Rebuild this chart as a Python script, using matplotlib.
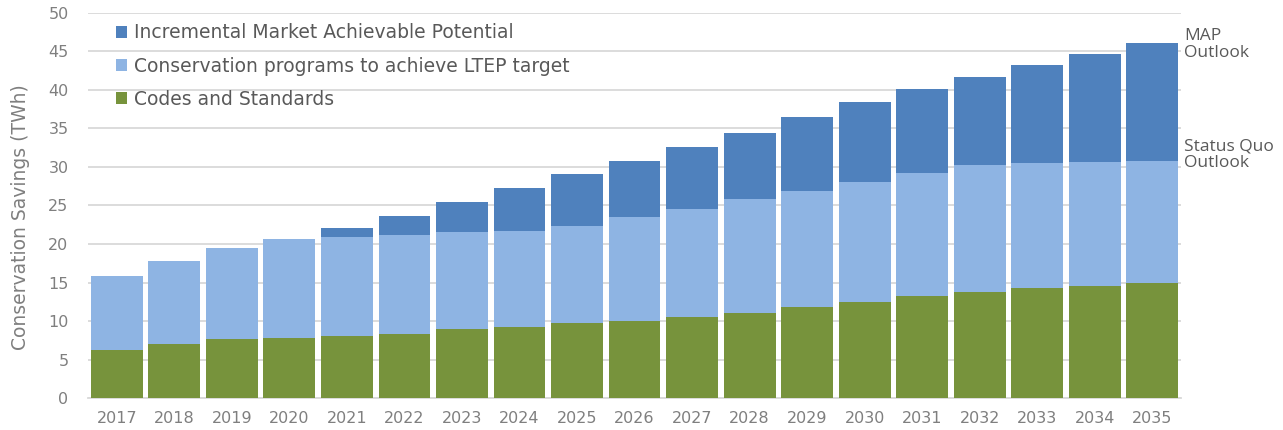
import numpy as np
import matplotlib
matplotlib.use('Agg')
import matplotlib.pyplot as plt

# Conservation savings (TWh)
years = [str(y) for y in range(2017, 2036)]
codes_standards = [6.2, 7.0, 7.6, 7.8, 8.0, 8.35, 8.9, 9.25, 9.7, 10.05,
                   10.5, 11.0, 11.8, 12.5, 13.2, 13.8, 14.25, 14.6, 14.9]
ltep_programs = [9.7, 10.8, 11.9, 12.85, 12.95, 12.8, 12.6, 12.5, 12.65, 13.45,
                 14.1, 14.8, 15.1, 15.5, 16.0, 16.5, 16.3, 16.1, 15.9]
incremental_map = [0, 0, 0, 0, 1.1, 2.55, 3.95, 5.55, 6.8, 7.3,
                   8.05, 8.65, 9.55, 10.45, 10.95, 11.45, 12.75, 14.0, 15.25]

c_green = '#77933C'
c_light = '#8EB4E3'
c_dark = '#4F81BD'
grey = '#7F7F7F'

plt.rcParams['font.family'] = ['DejaVu Sans']

fig = plt.figure(figsize=(12.83, 4.3), dpi=100)
ax = fig.add_axes([0.0686, 0.0744, 0.852, 0.8954])

x = np.arange(len(years))
w = 0.9
codes = np.array(codes_standards)
ltep = np.array(ltep_programs)
inc = np.array(incremental_map)

ax.bar(x, codes, w, color=c_green, label='Codes and Standards', zorder=3)
ax.bar(x, ltep, w, bottom=codes, color=c_light,
       label='Conservation programs to achieve LTEP target', zorder=3)
ax.bar(x, inc, w, bottom=codes + ltep, color=c_dark,
       label='Incremental Market Achievable Potential', zorder=3)

ax.set_xlim(-0.5, len(years) - 0.5)
ax.set_ylim(0, 50)
ax.set_yticks(range(0, 51, 5))
ax.set_xticks(x)
ax.set_xticklabels(years)
ax.yaxis.grid(True, color='#D9D9D9', linewidth=1.3, zorder=0)
ax.set_axisbelow(True)
for s in ['top', 'right', 'left']:
    ax.spines[s].set_visible(False)
ax.spines['bottom'].set_color('#D9D9D9')
ax.spines['bottom'].set_linewidth(1.3)
ax.tick_params(axis='both', length=0, labelsize=11.5, colors=grey)
ax.tick_params(axis='x', pad=9)
ax.tick_params(axis='y', pad=14)
ax.set_ylabel('Conservation Savings (TWh)', fontsize=13.5, color=grey)
ax.yaxis.set_label_coords(-0.053, 0.47)

handles, labels = ax.get_legend_handles_labels()
leg = ax.legend(handles[::-1], labels[::-1], loc='upper left',
                bbox_to_anchor=(0.01, 1.017), frameon=False, fontsize=13.5,
                handlelength=0.6, handleheight=0.6, handletextpad=0.35,
                labelspacing=0.76, labelcolor='#595959')

ax.text(len(years) - 0.45, 45.9, 'MAP\nOutlook', fontsize=12.5, color='#595959',
        va='center', ha='left', linespacing=1.05, family='Open Sans')
ax.text(len(years) - 0.45, 31.6, 'Status Quo\nOutlook', fontsize=12.5, color='#595959',
        va='center', ha='left', linespacing=1.05, family='Open Sans')

fig.savefig('out.png', dpi=100)
